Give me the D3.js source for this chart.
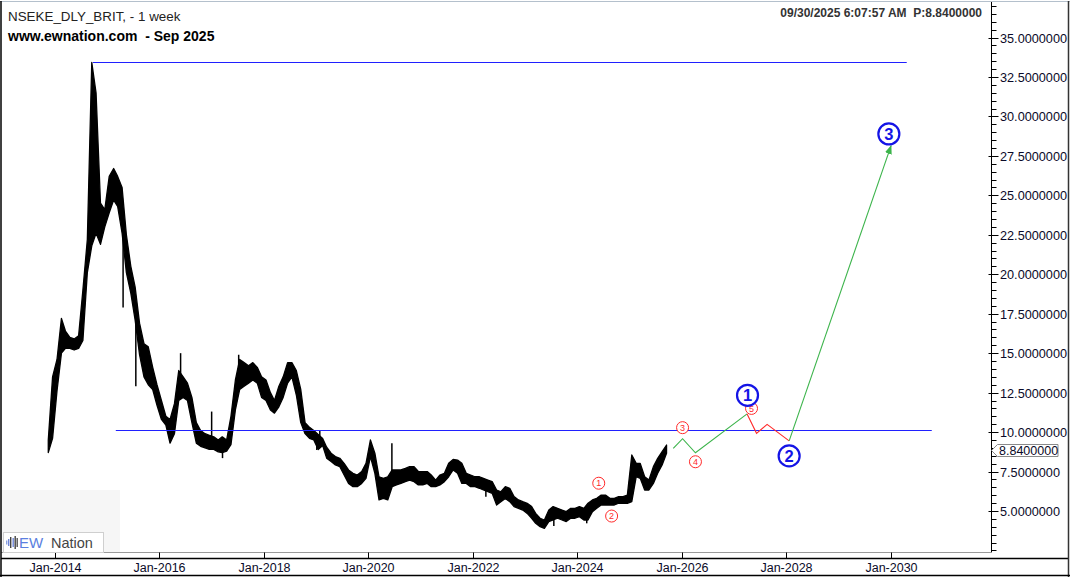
<!DOCTYPE html>
<html><head><meta charset="utf-8">
<script src="https://cdn.jsdelivr.net/npm/d3@7"></script>
<style>
body{margin:0;background:#fff}
svg{display:block}
text{font-family:"Liberation Sans",Arial,sans-serif}
</style>
</head><body>
<svg id="c" width="1070" height="577"></svg>
<script>
// ---------- DATA ----------
const firstMonth = "2013-11";
const highs = [
  9.5, 13.5,
  14.6, 17.2, 16.4, 16.0, 15.9, 16.1, 19.0, 22.2, 33.42, 31.5, 24.5, 24.1,
  26.2, 26.7, 26.2, 25.5, 22.5, 20.5, 19.2, 16.9, 15.6, 15.4, 14.1, 13.0,
  12.0, 11.0, 10.8, 11.8, 13.9, 13.5, 13.1, 12.2, 10.6, 10.1, 9.9, 9.8,
  9.7, 9.5, 9.7, 9.5, 11.0, 13.3, 14.6, 14.4, 14.2, 14.4, 14.1, 13.5,
  13.3, 12.5, 12.0, 12.9, 13.5, 14.4, 14.4, 13.9, 12.7, 10.6, 10.3, 10.1,
  9.85, 9.6, 9.04, 8.66, 8.45, 8.34, 8.02, 7.6, 7.39, 7.28, 7.5, 8.02,
  9.5, 8.66, 7.17, 7.07, 7.17, 7.6, 7.6, 7.6, 7.7, 7.81, 7.81, 7.5,
  7.5, 7.5, 7.28, 6.96, 7.28, 7.39, 8.02, 8.27, 8.23, 8.02, 7.39, 7.28,
  7.17, 7.17, 7.07, 6.96, 6.86, 6.33, 6.22, 6.54, 6.44, 5.91, 5.7, 5.59,
  5.49, 5.28, 4.85, 4.54, 4.43, 5.06, 5.28, 5.17, 5.06, 4.96, 5.17, 5.17,
  5.28, 5.17, 5.49, 5.7, 5.8, 6.01, 6.01, 5.8, 5.8, 5.91, 5.91, 6.01,
  8.55, 8.02, 8.02, 7.17, 6.96, 7.81, 8.34, 8.76, 9.18
];
const lows = [
  8.7, 9.6,
  12.6, 15.0, 15.3, 15.3, 15.2, 15.3, 15.8, 20.1, 21.8, 22.6, 21.9, 23.0,
  23.9, 24.7, 24.3, 22.6, 20.1, 18.8, 17.1, 14.9, 13.5, 13.0, 12.7, 11.7,
  10.8, 10.45, 9.3, 9.9, 12.0, 12.2, 12.0, 10.6, 9.3, 9.1, 9.0, 8.9,
  8.9, 8.75, 8.7, 8.8, 9.2, 11.4, 12.7, 12.9, 13.1, 13.3, 13.1, 12.2,
  12.0, 11.4, 11.2, 11.6, 12.2, 13.1, 13.5, 12.35, 10.6, 9.9, 9.6, 9.5,
  8.9, 9.15, 8.35, 8.13, 7.92, 7.81, 7.28, 6.75, 6.54, 6.54, 6.75, 7.07,
  8.45, 7.39, 5.7, 5.8, 5.7, 6.54, 6.65, 6.75, 6.86, 6.96, 6.86, 6.65,
  6.65, 6.75, 6.54, 6.54, 6.65, 6.86, 7.17, 7.6, 7.39, 6.75, 6.75, 6.54,
  6.54, 6.44, 6.33, 6.22, 6.12, 5.38, 5.59, 5.8, 5.59, 5.28, 5.17, 5.06,
  4.85, 4.54, 4.22, 4.01, 3.9, 4.33, 4.43, 4.54, 4.43, 4.33, 4.54, 4.54,
  4.64, 4.43, 4.43, 4.96, 5.17, 5.38, 5.38, 5.38, 5.38, 5.49, 5.49, 5.49,
  5.59, 7.17, 7.07, 6.33, 6.33, 6.75, 7.39, 7.92, 8.66
];
// single-week extremes
const spikeDates  = ["2015-04-22","2015-07-20","2016-05-28","2016-12-31","2017-03-17","2017-07-08","2019-01-05","2019-01-26","2020-06-13","2022-04-01","2023-07-20","2024-03-06"];
const spikeValues = [17.9, 12.9, 15.0, 11.3, 8.35, 14.9, 8.87, 10.1, 9.3, 5.91, 4.05, 4.22];

const lastPrice = 8.84;
const lastPriceLabel = "8.8400000";

// horizontal levels
const levelValues = [33.42, 10.11];
const levelStarts = ["2014-09-23", "2015-03-02"];
const levelEnds   = ["2030-04-21", "2030-10-13"];

// projected waves
const wave1Dates  = ["2025-11-01","2026-01-05","2026-04-05","2027-04-01"];
const wave1Values = [8.97, 9.58, 8.69, 11.15];
const wave2Dates  = ["2027-04-01","2027-06-06","2027-08-19","2028-01-20"];
const wave2Values = [11.15, 9.92, 10.49, 9.44];
const wave3Dates  = ["2028-01-20","2030-01-01"];
const wave3Values = [9.44, 28.13];

// wave labels
const minorLabels      = ["1","2","3","4","5"];
const minorLabelDates  = ["2024-05-29","2024-08-27","2026-01-05","2026-04-05","2027-05-02"];
const minorLabelValues = [6.76, 4.68, 10.28, 8.12, 11.5];
const majorLabels      = ["1","2","3"];
const majorLabelDates  = ["2027-04-04","2028-01-20","2029-12-17"];
const majorLabelValues = [12.33, 8.49, 28.89];

// axes
const yTickValues = [5, 7.5, 10, 12.5, 15, 17.5, 20, 22.5, 25, 27.5, 30, 32.5, 35];
const yTickLabels = ["5.0000000","7.5000000","10.0000000","12.5000000","15.0000000","17.5000000","20.0000000","22.5000000","25.0000000","27.5000000","30.0000000","32.5000000","35.0000000"];
const xTickDates  = ["2014-01-01","2016-01-01","2018-01-01","2020-01-01","2022-01-01","2024-01-01","2026-01-01","2028-01-01","2030-01-01"];
const xTickLabels = ["Jan-2014","Jan-2016","Jan-2018","Jan-2020","Jan-2022","Jan-2024","Jan-2026","Jan-2028","Jan-2030"];

const titleText = "NSEKE_DLY_BRIT, - 1 week";
const subtitleText = "www.ewnation.com  - Sep 2025";
const stampText = "09/30/2025 6:07:57 AM  P:8.8400000";

// ---------- DRAW ----------
const parse = d3.timeParse("%Y-%m-%d");
const svg = d3.select("#c");
const x = d3.scaleTime().domain([new Date(2014,0,1), new Date(2030,0,1)]).range([55, 891]);
const y = d3.scaleLinear().domain([5, 35]).range([511, 37.5]);

const AXR = 991.5, AXB = 552.5;

// logo background
svg.append("rect").attr("x",1).attr("y",490).attr("width",119).attr("height",AXB-490).attr("fill","#f6f6f6");

// months
const m0 = d3.timeParse("%Y-%m")(firstMonth);
const monthStarts = d3.timeMonth.range(m0, d3.timeMonth.offset(m0, highs.length));
const bars = monthStarts.map((m,i)=>({d:new Date(m.getFullYear(), m.getMonth(), 15), h:highs[i], l:lows[i]}));

// price band
svg.append("path").datum(bars)
  .attr("d", d3.area().x(d=>x(d.d)).y0(d=>y(d.l)).y1(d=>y(d.h)))
  .attr("fill","#000").attr("stroke","#000").attr("stroke-width",1.3).attr("stroke-linejoin","round");

// spikes
spikeDates.forEach((s,i)=>{
  const dt = parse(s);
  const b = bars.reduce((a,c)=>Math.abs(c.d-dt)<Math.abs(a.d-dt)?c:a);
  svg.append("line").attr("x1",x(dt)).attr("x2",x(dt))
    .attr("y1",y(spikeValues[i])).attr("y2",y((b.h+b.l)/2))
    .attr("stroke","#000").attr("stroke-width",1.5);
});

// levels
levelValues.forEach((v,i)=>{
  svg.append("line").attr("x1",x(parse(levelStarts[i]))).attr("x2",x(parse(levelEnds[i])))
    .attr("y1",Math.round(y(v))+0.5).attr("y2",Math.round(y(v))+0.5)
    .attr("stroke","#2020ff").attr("stroke-width",1.2);
});

// arrow marker
svg.append("defs").append("marker").attr("id","arr")
  .attr("markerUnits","userSpaceOnUse").attr("markerWidth",9).attr("markerHeight",7)
  .attr("refX",8).attr("refY",3.5).attr("orient","auto")
  .append("path").attr("d","M0,0L9,3.5L0,7Z").attr("fill","#3cb44b");

const lineGen = d3.line().x(d=>x(d[0])).y(d=>y(d[1]));
function wave(dates, vals, color, arrow){
  const p = svg.append("path").datum(dates.map((d,i)=>[parse(d), vals[i]]))
    .attr("d", lineGen).attr("fill","none").attr("stroke",color).attr("stroke-width",1.1);
  if(arrow) p.attr("marker-end","url(#arr)");
}
wave(wave1Dates, wave1Values, "#3cb44b", false);
wave(wave2Dates, wave2Values, "#ff2a2a", false);
wave(wave3Dates, wave3Values, "#3cb44b", true);

// minor labels
minorLabels.forEach((t,i)=>{
  const cx = x(parse(minorLabelDates[i])), cy = y(minorLabelValues[i]);
  svg.append("circle").attr("cx",cx).attr("cy",cy).attr("r",6).attr("fill","#fff").attr("stroke","#ff2a2a").attr("stroke-width",1);
  svg.append("text").attr("x",cx).attr("y",cy).attr("dy","0.35em").attr("text-anchor","middle")
    .attr("font-size",9).attr("fill","#ff2a2a").text(t);
});
// major labels
majorLabels.forEach((t,i)=>{
  const cx = x(parse(majorLabelDates[i])), cy = y(majorLabelValues[i]);
  svg.append("circle").attr("cx",cx).attr("cy",cy).attr("r",10.5).attr("fill","#fff").attr("stroke","#1414e6").attr("stroke-width",2.2);
  svg.append("text").attr("x",cx).attr("y",cy).attr("dy","0.36em").attr("text-anchor","middle")
    .attr("font-size",16.5).attr("font-weight","bold").attr("fill","#1414e6").text(t);
});

// ---------- FRAME / AXES ----------
svg.append("line").attr("x1",AXR).attr("x2",AXR).attr("y1",2).attr("y2",AXB).attr("stroke","#000");
d3.range(2.5, 37.01, 0.5).forEach(v=>{
  const yy = Math.round(y(v))+0.5;
  if (yy < 4 || yy > AXB) return;
  svg.append("line").attr("x1",AXR).attr("x2",AXR+5).attr("y1",yy).attr("y2",yy).attr("stroke","#000");
});
yTickValues.forEach((v,i)=>{
  const yy = Math.round(y(v))+0.5;
  svg.append("line").attr("x1",AXR-3).attr("x2",AXR+7).attr("y1",yy).attr("y2",yy).attr("stroke","#000");
  svg.append("text").attr("x",1000).attr("y",yy).attr("dy","0.36em").attr("font-size",12.7).attr("fill","#0a0a28").text(yTickLabels[i]);
});

// last price tag
{
  const yy = Math.round(y(lastPrice))+0.5;
  svg.append("path").attr("d",`M${AXR},${yy}L${AXR+6},${yy-6}L1058,${yy-6}L1058,${yy+6}L${AXR+6},${yy+6}Z`)
    .attr("fill","#fff").attr("stroke","#8a8a8a");
  svg.append("text").attr("x",999).attr("y",yy).attr("dy","0.36em").attr("font-size",12.5).attr("fill","#0a0a28").text(lastPriceLabel);
}

// x axis
svg.append("line").attr("x1",1).attr("x2",AXR).attr("y1",AXB).attr("y2",AXB).attr("stroke","#9a9a9a");
svg.append("line").attr("x1",1).attr("x2",1069).attr("y1",558.5).attr("y2",558.5).attr("stroke","#000").attr("stroke-width",1.5);
xTickDates.forEach((d,i)=>{
  const xx = Math.round(x(parse(d)))+0.5;
  svg.append("line").attr("x1",xx).attr("x2",xx).attr("y1",AXB).attr("y2",558).attr("stroke","#000");
  svg.append("text").attr("x",xx).attr("y",571.5).attr("text-anchor","middle").attr("font-size",12.5).attr("fill","#0a0a28").text(xTickLabels[i]);
});

// borders
svg.append("line").attr("x1",0).attr("x2",1070).attr("y1",1.5).attr("y2",1.5).attr("stroke","#b4c0cc");
svg.append("line").attr("x1",1).attr("x2",1).attr("y1",1).attr("y2",577).attr("stroke","#000").attr("stroke-width",1.5);
svg.append("line").attr("x1",1068.5).attr("x2",1068.5).attr("y1",1).attr("y2",577).attr("stroke","#333").attr("stroke-width",1.5);
svg.append("line").attr("x1",0).attr("x2",1070).attr("y1",575.5).attr("y2",575.5).attr("stroke","#000").attr("stroke-width",1.5);

// titles
svg.append("text").attr("x",8).attr("y",20.5).attr("font-size",13.4).attr("fill","#222").text(titleText);
svg.append("text").attr("x",8).attr("y",40.5).attr("font-size",14).attr("font-weight","bold").attr("fill","#000")
  .style("white-space","pre").text(subtitleText);
svg.append("text").attr("x",982).attr("y",17).attr("text-anchor","end").attr("font-size",12).attr("font-weight","bold").attr("fill","#333")
  .style("white-space","pre").text(stampText);

// logo
svg.append("rect").attr("x",3.5).attr("y",532.5).attr("width",100).attr("height",20).attr("fill","#fff").attr("stroke","#cfcfcf");
const icon = [[6,4,"#8aa0e0"],[8,7,"#6f86d8"],[10,11,"#444"],[12.5,9,"#6f86d8"],[14.5,13,"#444"],[16.5,9,"#555"]];
icon.forEach(b=>svg.append("rect").attr("x",b[0]).attr("y",542.5-b[1]/2).attr("width",1.4).attr("height",b[1]).attr("fill",b[2]));
svg.append("text").attr("x",19).attr("y",548).attr("font-size",15).attr("fill","#5b7fe0").text("EW");
svg.append("text").attr("x",51).attr("y",548).attr("font-size",14.5).attr("fill","#444").text("Nation");
</script>
</body></html>
